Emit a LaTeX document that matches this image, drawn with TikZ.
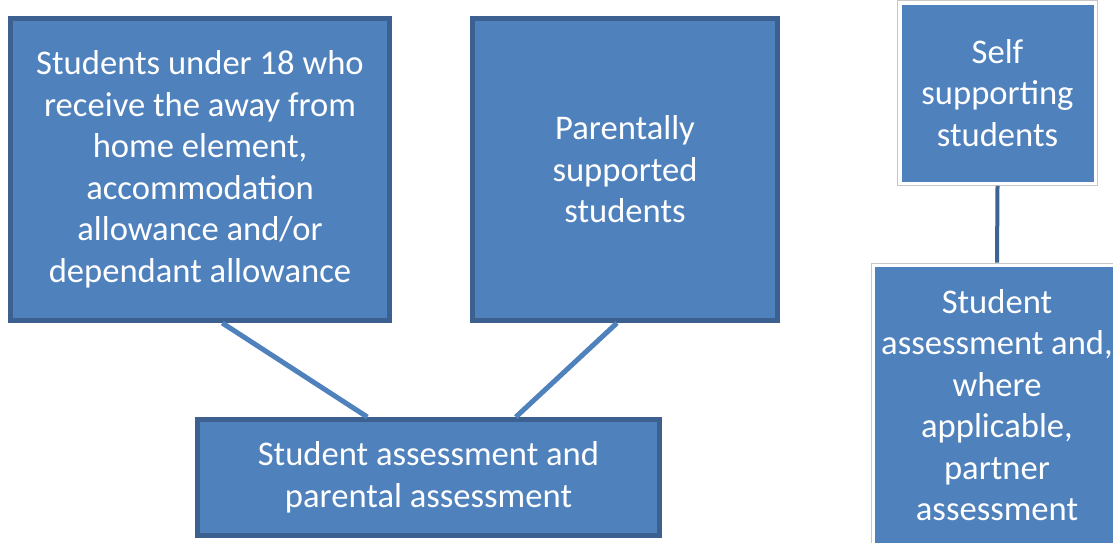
\documentclass[tikz,border=0pt]{standalone}
\usepackage{fontspec}
\setmainfont{Carlito}
\usetikzlibrary{calc}
\definecolor{boxblue}{HTML}{4F81BD}
\definecolor{boxedge}{HTML}{3C6191}
\definecolor{linkdark}{HTML}{3D6494}
\begin{document}
\begin{tikzpicture}[x=1pt,y=-1pt,
  boxfont/.style={font=\fontsize{34.6}{41.5}\selectfont},
  darkbox/.style={rectangle, fill=boxblue, draw=boxedge, line width=5pt,
    text=white, align=center, boxfont, inner sep=0pt},
  framedbox/.style={rectangle, fill=white, draw=black!22, line width=0.8pt,
    text=white, align=center, boxfont, inner sep=0pt,
    path picture={\fill[boxblue] ([shift={(4pt,4pt)}]path picture bounding box.south west)
      rectangle ([shift={(-4pt,-4pt)}]path picture bounding box.north east);}},
  lightlink/.style={draw=boxblue, line width=5pt},
  darklink/.style={draw=linkdark, line width=4pt}]
\useasboundingbox (0,0) rectangle (1113,542);
\clip (0,0) rectangle (1113,542);
\fill[white] (0,0) rectangle (1113,542);

\node[darkbox, minimum width=379pt, minimum height=302pt] (b1) at (200,169.5)
  {Students under 18 who\\receive the away from\\home element,\\accommodation\\allowance and/or\\dependant allowance};
\node[darkbox, minimum width=305pt, minimum height=302pt] (b2) at (625,169.5)
  {Parentally\\supported\\students};
\node[darkbox, minimum width=462pt, minimum height=116pt] (b3) at (428.5,477.5)
  {Student assessment and\\parental assessment};

\node[framedbox, minimum width=200pt, minimum height=185pt] (r1) at (997.5,93)
  {Self\\supporting\\students};
\node[framedbox, minimum width=252pt, minimum height=284pt] (r2) at (997,405)
  {Student\\assessment and,\\where\\applicable,\\partner\\assessment};

\draw[lightlink] ($(b1.south west)!0.558!(b1.south east)$) -- ($(b3.north west)!0.369!(b3.north east)$);
\draw[lightlink] ($(b2.south west)!0.474!(b2.south east)$) -- ($(b3.north west)!0.687!(b3.north east)$);
\draw[darklink] (r1.south) -- (r2.north);
\end{tikzpicture}
\end{document}
